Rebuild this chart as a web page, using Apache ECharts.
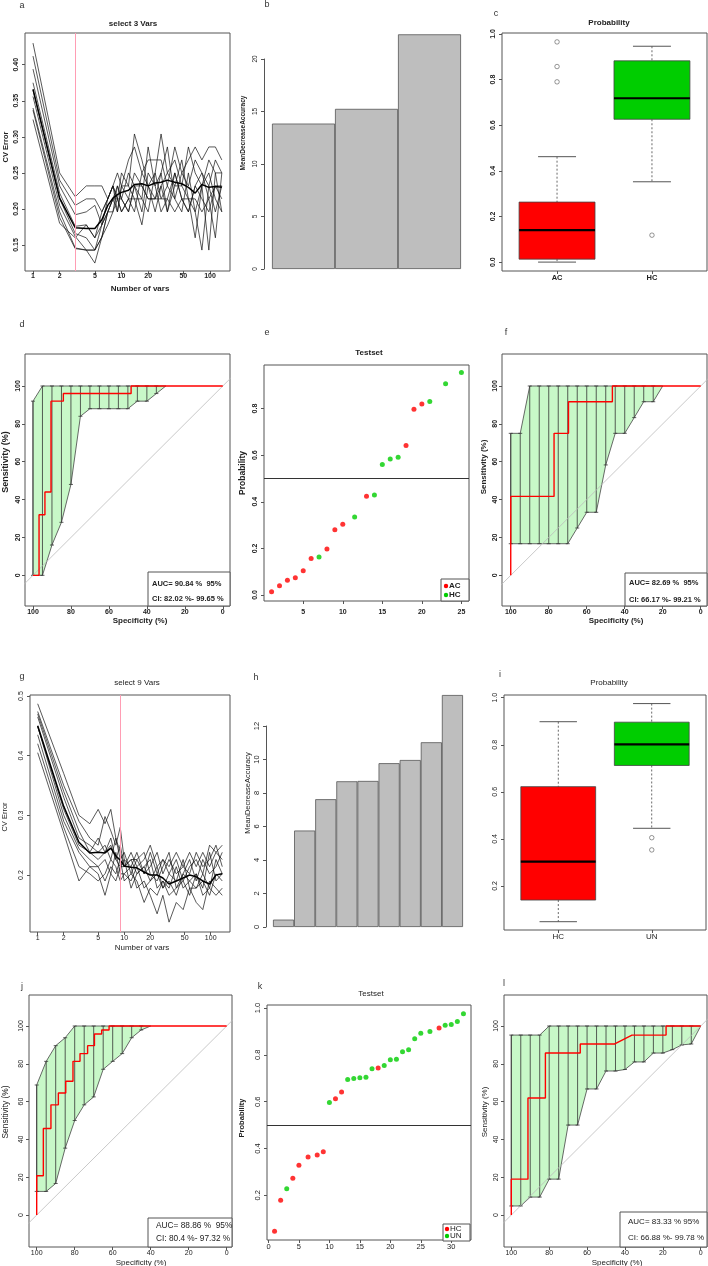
<!DOCTYPE html>
<html><head><meta charset="utf-8">
<script src="https://cdn.jsdelivr.net/npm/echarts@6/dist/echarts.min.js"></script>
<style>html,body{margin:0;padding:0;background:#fff}#c{width:708px;height:1266px}</style>
</head><body><div id="c"></div>
<script>
// ---------------- DATA ----------------
// a: rfcv, select 3 vars
const NV_A = [1,2,3,4,5,6,7,8,9,10,12,14,17,20,24,28,33,40,48,57,68,81,97,115,136];
const CV_A1 = [0.430,0.250,0.217,0.232,0.232,0.232,0.214,0.232,0.250,0.232,0.268,0.286,0.250,0.268,0.268,0.268,0.232,0.286,0.250,0.268,0.286,0.268,0.286,0.286,0.268];
const CV_A2 = [0.412,0.240,0.205,0.214,0.214,0.196,0.214,0.232,0.214,0.250,0.232,0.304,0.268,0.232,0.250,0.304,0.250,0.268,0.232,0.286,0.250,0.232,0.268,0.250,0.250];
const CV_A3 = [0.394,0.232,0.192,0.196,0.205,0.178,0.196,0.214,0.232,0.214,0.250,0.232,0.214,0.286,0.232,0.250,0.286,0.214,0.250,0.232,0.268,0.250,0.232,0.268,0.250];
const CV_A4 = [0.375,0.222,0.176,0.178,0.160,0.178,0.214,0.232,0.196,0.232,0.214,0.250,0.232,0.214,0.214,0.214,0.214,0.250,0.214,0.214,0.214,0.196,0.214,0.232,0.232];
const CV_A5 = [0.365,0.214,0.166,0.160,0.143,0.161,0.196,0.214,0.214,0.196,0.214,0.196,0.250,0.232,0.196,0.232,0.196,0.232,0.268,0.214,0.196,0.232,0.250,0.214,0.196];
const CV_A6 = [0.356,0.205,0.162,0.143,0.143,0.161,0.178,0.196,0.232,0.214,0.196,0.232,0.196,0.250,0.232,0.196,0.214,0.196,0.214,0.196,0.232,0.214,0.196,0.232,0.214];
const CV_A7 = [0.340,0.196,0.146,0.143,0.143,0.178,0.196,0.214,0.196,0.232,0.232,0.214,0.214,0.196,0.250,0.214,0.232,0.214,0.196,0.250,0.196,0.143,0.232,0.196,0.232];
const CV_A8 = [0.337,0.188,0.145,0.143,0.125,0.161,0.196,0.196,0.214,0.214,0.196,0.232,0.232,0.214,0.214,0.232,0.250,0.232,0.232,0.214,0.160,0.232,0.143,0.250,0.196];
const CV_A9 = [0.324,0.180,0.160,0.178,0.160,0.196,0.214,0.232,0.214,0.196,0.214,0.214,0.178,0.232,0.214,0.250,0.196,0.250,0.214,0.196,0.232,0.250,0.214,0.160,0.250];
const CV_A_MEAN = [0.366,0.215,0.174,0.173,0.173,0.185,0.205,0.215,0.220,0.223,0.226,0.234,0.235,0.232,0.236,0.237,0.240,0.237,0.235,0.230,0.222,0.234,0.230,0.231,0.230];
const SEL_A = 3;
const LOG_TICKS = [1,2,5,10,20,50,100];

// b: importance (3 vars)
const B_NAMES = ['v1','v2','v3'];
const B_VALUES = [13.85,15.25,22.35];

// c: boxplot probability
const C_CATS = ['AC','HC'];
const C_STATS = [[0.0,0.013,0.140,0.263,0.462],[0.352,0.626,0.718,0.882,0.946]];
const C_OUT_X = [1,1,1,2];
const C_OUT_Y = [0.965,0.857,0.790,0.118];

// d: ROC (test set, 3 vars)
const D_CI_SP = [100,95,90,85,80,75,70,65,60,55,50,45,40,35,30];
const D_CI_UP = [92,100,100,100,100,100,100,100,100,100,100,100,100,100,100];
const D_CI_LO = [0,0,16,28,48,84,88,88,88,88,88,92,92,96,100];
const D_ROC_SP = [100,96.8,96.8,93.7,93.7,90.5,90.5,84,84,48.3,48.3,0];
const D_ROC_SE = [0,0,32,32,44,44,92,92,96,96,100,100];
const D_AUC = ['AUC= 90.84 %  95%','CI: 82.02 %- 99.65 %'];

// e: test set probabilities
const E_RANK = [1,2,3,4,5,6,7,8,9,10,11.5,13,14,15,16,17,18,19,20,21,23,25];
const E_PROB = [0.014,0.039,0.063,0.074,0.104,0.156,0.163,0.197,0.280,0.303,0.335,0.424,0.429,0.560,0.584,0.591,0.641,0.797,0.820,0.830,0.907,0.955];
const E_GROUP = ['AC','AC','AC','AC','AC','AC','HC','AC','AC','AC','HC','AC','HC','HC','HC','HC','AC','AC','AC','HC','HC','HC'];
const E_LEVELS = ['AC','HC'];

// f: ROC
const F_CI_SP = [100,95,90,85,80,75,70,65,60,55,50,45,40,35,30,25,20];
const F_CI_UP = [75,75,100,100,100,100,100,100,100,100,100,100,100,100,100,100,100];
const F_CI_LO = [16.7,16.7,16.7,16.7,16.7,16.7,16.7,25,33.3,33.3,58.3,75,75,83.3,91.7,91.7,100];
const F_ROC_SP = [100,100,77.2,77.2,69.6,69.6,46.5,46.5,0];
const F_ROC_SE = [0,41.7,41.7,75,75,91.7,91.7,100,100];
const F_AUC = ['AUC= 82.69 %  95%','CI: 66.17 %- 99.21 %'];

// g: rfcv, select 9 vars
const NV_G = [1,2,3,4,5,6,7,8,9,10,12,14,17,20,24,28,33,40,48,57,68,81,97,115,136];
const CV_G1 = [0.487,0.370,0.300,0.286,0.310,0.286,0.310,0.262,0.238,0.214,0.238,0.214,0.226,0.250,0.214,0.226,0.202,0.226,0.190,0.214,0.226,0.202,0.250,0.238,0.226];
const CV_G2 = [0.474,0.350,0.290,0.262,0.250,0.298,0.274,0.250,0.280,0.226,0.214,0.238,0.202,0.214,0.238,0.202,0.226,0.202,0.214,0.202,0.238,0.214,0.226,0.250,0.214];
const CV_G3 = [0.465,0.330,0.262,0.250,0.238,0.250,0.226,0.262,0.226,0.238,0.202,0.226,0.238,0.202,0.190,0.214,0.238,0.178,0.202,0.226,0.190,0.226,0.202,0.214,0.238];
const CV_G4 = [0.449,0.310,0.250,0.238,0.226,0.238,0.250,0.226,0.214,0.214,0.226,0.202,0.214,0.226,0.178,0.190,0.178,0.214,0.178,0.190,0.202,0.178,0.238,0.190,0.202];
const CV_G5 = [0.449,0.300,0.244,0.226,0.214,0.226,0.202,0.238,0.202,0.202,0.190,0.214,0.178,0.190,0.202,0.178,0.202,0.190,0.226,0.178,0.178,0.190,0.166,0.202,0.190];
const CV_G6 = [0.435,0.290,0.238,0.214,0.214,0.190,0.214,0.202,0.226,0.190,0.202,0.190,0.154,0.178,0.166,0.190,0.166,0.178,0.190,0.166,0.202,0.166,0.178,0.166,0.178];
const CV_G7 = [0.420,0.280,0.214,0.202,0.190,0.202,0.226,0.214,0.190,0.202,0.214,0.178,0.190,0.166,0.135,0.166,0.121,0.154,0.142,0.178,0.154,0.142,0.190,0.178,0.166];
const CV_G8 = [0.405,0.270,0.190,0.214,0.202,0.166,0.202,0.190,0.214,0.226,0.178,0.202,0.214,0.190,0.214,0.178,0.190,0.166,0.202,0.190,0.178,0.202,0.178,0.226,0.202];
const CV_G9 = [0.470,0.340,0.274,0.238,0.262,0.238,0.262,0.226,0.250,0.214,0.226,0.226,0.202,0.238,0.202,0.226,0.214,0.238,0.214,0.238,0.214,0.238,0.214,0.238,0.250];
const CV_G_MEAN = [0.450,0.315,0.255,0.237,0.238,0.237,0.245,0.232,0.225,0.215,0.213,0.212,0.205,0.200,0.200,0.195,0.185,0.190,0.195,0.200,0.197,0.190,0.185,0.200,0.202];
const SEL_G = 9;

// h: importance (9 vars)
const H_NAMES = ['v1','v2','v3','v4','v5','v6','v7','v8','v9'];
const H_VALUES = [0.44,5.76,7.63,8.70,8.72,9.78,9.97,11.03,13.85];

// i: boxplot
const I_CATS = ['HC','UN'];
const I_STATS = [[0.048,0.140,0.303,0.622,0.898],[0.445,0.712,0.802,0.896,0.975]];
const I_OUT_X = [2,2];
const I_OUT_Y = [0.405,0.353];

// j: ROC
const J_CI_SP = [100,95,90,85,80,75,70,65,60,55,50,45,40];
const J_CI_UP = [68.8,81.3,89.6,93.8,100,100,100,100,100,100,100,100,100];
const J_CI_LO = [12.5,12.5,16.7,35.4,50,58.3,62.5,77.1,81.3,85.4,93.8,97.9,100];
const J_ROC_SP = [100,100,96.5,96.5,92.5,92.5,88.6,88.6,84.7,84.7,80.9,80.9,77.2,77.2,73.2,73.2,69.6,69.6,65.8,65.8,61.9,61.9,0];
const J_ROC_SE = [0,20.8,20.8,45.8,45.8,58.3,58.3,64.6,64.6,70.8,70.8,81.3,81.3,85.4,85.4,89.6,89.6,95.8,95.8,97.9,97.9,100,100];
const J_AUC = ['AUC= 88.86 %  95%','CI: 80.4 %- 97.32 %'];

// k: test set probabilities
const K_RANK = [1,2,3,4,5,6.5,8,9,10,11,12,13,14,15,16,17,18,19,20,21,22,23,24,25,26.5,28,29,30,31,32];
const K_PROB = [0.046,0.179,0.228,0.273,0.328,0.364,0.372,0.386,0.596,0.613,0.641,0.695,0.699,0.702,0.704,0.741,0.744,0.755,0.779,0.781,0.813,0.822,0.869,0.892,0.900,0.915,0.926,0.930,0.943,0.976];
const K_GROUP = ['HC','HC','UN','HC','HC','HC','HC','HC','UN','HC','HC','UN','UN','UN','UN','UN','HC','UN','UN','UN','UN','UN','UN','UN','UN','HC','UN','UN','UN','UN'];
const K_LEVELS = ['HC','UN'];

// l: ROC
const L_CI_SP = [100,95,90,85,80,75,70,65,60,55,50,45,40,35,30,25,20,15,10,5,0];
const L_CI_UP = [95.2,95.2,95.2,95.2,100,100,100,100,100,100,100,100,100,100,100,100,100,100,100,100,100];
const L_CI_LO = [4.8,4.8,9.5,9.5,19,19,47.6,47.6,66.7,66.7,76.2,76.2,77,81,81,85.7,85.7,87.5,90,90.5,100];
const L_ROC_SP = [100,100,91.2,91.2,82,82,63.6,63.6,45.4,36.3,18.3,18.3,0];
const L_ROC_SE = [0,19,19,61.9,61.9,85.7,85.7,90.5,90.5,95.2,95.2,100,100];
const L_AUC = ['AUC= 83.33 % 95%','CI: 66.88 %- 99.78 %'];

const ROC_TICKS = [0,20,40,60,80,100];

// ---------------- BUILD ----------------
const FONT = '"Liberation Sans", Arial, Helvetica, sans-serif';
const RED = '#ff0000', GREEN = '#00cd00', CIFILL = '#c8f8c8';
const G = [], X = [], Y = [], S = [], GR = [];

function grid(l, t, r, b, show) {
  G.push({left: l, top: t, width: r - l, height: b - t, show: show !== false,
    borderColor: '#555', borderWidth: 1, backgroundColor: 'transparent', containLabel: false});
  return G.length - 1;
}
function ax(gi, o) {
  const lab = {show: !!o.ticks, customValues: o.ticks, formatter: o.fmt, margin: o.margin != null ? o.margin : 3,
    fontSize: o.fs || 7, fontWeight: o.bold ? 'bold' : 'normal', fontFamily: FONT, color: '#222',
    showMinLabel: true, showMaxLabel: true, hideOverlap: false};
  if (o.rot) { lab.rotate = 90; lab.align = 'center'; lab.verticalAlign = 'bottom'; }
  const a = {gridIndex: gi, type: o.type || 'value', inverse: !!o.inverse, position: o.pos, offset: o.offset || 0,
    axisLine: {show: !!o.line, onZero: false, lineStyle: {color: '#555', width: 1}},
    axisTick: {show: !!o.ticks, customValues: o.ticks, length: 3, inside: false, lineStyle: {color: '#555', width: 1}},
    axisLabel: lab, splitLine: {show: false}, axisPointer: {show: false}};
  if (o.min != null) a.min = o.min;
  if (o.max != null) a.max = o.max;
  if (o.data) a.data = o.data;
  return a;
}
function addAxes(gi, xo, yo) { X.push(ax(gi, Object.assign({pos: 'bottom'}, xo))); Y.push(ax(gi, Object.assign({pos: 'left'}, yo))); }

function txt(x, y, s, o) {
  o = o || {};
  GR.push({type: 'text', x: x, y: y, rotation: o.rot ? Math.PI / 2 : 0, silent: true, z: 101,
    style: {text: s, font: (o.bold ? 'bold ' : '') + (o.fs || 8) + 'px ' + FONT, fill: o.color || '#222',
      align: o.align || 'center', verticalAlign: 'middle'}});
}
function rect(x1, y1, x2, y2) {
  GR.push({type: 'rect', silent: true, z: 100, shape: {x: x1, y: y1, width: x2 - x1, height: y2 - y1},
    style: {fill: '#fff', stroke: '#555', lineWidth: 1}});
}
function dot(cx, cy, c) {
  GR.push({type: 'circle', silent: true, z: 101, shape: {cx: cx, cy: cy, r: 2.2}, style: {fill: c}});
}

const logT = v => Math.log10(v);
function cvPanel(gi, nv, lines, mean, sel) {
  lines.forEach(L => S.push({type: 'line', xAxisIndex: gi, yAxisIndex: gi, symbol: 'none', silent: true,
    data: nv.map((n, i) => [logT(n), L[i]]), lineStyle: {color: '#111', width: 0.7}}));
  S.push({type: 'line', xAxisIndex: gi, yAxisIndex: gi, symbol: 'none', silent: true,
    data: nv.map((n, i) => [logT(n), mean[i]]), lineStyle: {color: '#000', width: 1.5},
    markLine: {silent: true, symbol: 'none', label: {show: false}, animation: false,
      lineStyle: {color: '#ff9db4', width: 1, type: 'solid'}, data: [{xAxis: logT(sel)}]}});
}
function barPanel(gi, vals) {
  S.push({type: 'bar', xAxisIndex: gi, yAxisIndex: gi, data: vals, barCategoryGap: '0%', clip: false, silent: true,
    itemStyle: {color: '#bebebe', borderColor: '#555', borderWidth: 0.8}});
}
function boxPanel(gi, stats, outX, outY) {
  const cols = [RED, GREEN];
  S.push({type: 'custom', xAxisIndex: gi, yAxisIndex: gi, silent: true,
    data: stats.map((s, i) => [i + 1].concat(s)),
    renderItem: function (p, api) {
      const x = api.value(0);
      const P = v => api.coord([x, v]);
      const half = api.size([0.4, 0])[0], cap = api.size([0.2, 0])[0];
      const cx = P(api.value(1))[0];
      const yLo = P(api.value(1))[1], yQ1 = P(api.value(2))[1], yMed = P(api.value(3))[1], yQ3 = P(api.value(4))[1], yHi = P(api.value(5))[1];
      const ln = (x1, y1, x2, y2, st) => ({type: 'line', shape: {x1: x1, y1: y1, x2: x2, y2: y2}, style: st});
      const dash = {stroke: '#444', lineWidth: 0.8, lineDash: [2, 2]};
      const sol = {stroke: '#555', lineWidth: 1};
      return {type: 'group', children: [
        ln(cx, yHi, cx, yQ3, dash), ln(cx, yQ1, cx, yLo, dash),
        ln(cx - cap, yHi, cx + cap, yHi, sol), ln(cx - cap, yLo, cx + cap, yLo, sol),
        {type: 'rect', shape: {x: cx - half, y: yQ3, width: 2 * half, height: yQ1 - yQ3},
          style: {fill: cols[p.dataIndex], stroke: '#444', lineWidth: 0.8}},
        ln(cx - half, yMed, cx + half, yMed, {stroke: '#000', lineWidth: 2.2})]};
    }});
  S.push({type: 'scatter', xAxisIndex: gi, yAxisIndex: gi, silent: true, symbol: 'circle', symbolSize: 4.5,
    data: outX.map((x, i) => [x, outY[i]]), itemStyle: {color: '#fff', borderColor: '#444', borderWidth: 0.7}});
}
function rocPanel(gi, sp, up, lo, rsp, rse) {
  S.push({type: 'line', xAxisIndex: gi, yAxisIndex: gi, symbol: 'none', silent: true, clip: true,
    data: [[130, -30], [-30, 130]], lineStyle: {color: '#bbb', width: 0.8}});
  S.push({type: 'custom', xAxisIndex: gi, yAxisIndex: gi, silent: true, data: [[sp[0], up[0]]],
    renderItem: function (p, api) {
      const pts = [];
      for (let i = 0; i < sp.length; i++) pts.push(api.coord([sp[i], up[i]]));
      for (let i = sp.length - 1; i >= 0; i--) pts.push(api.coord([sp[i], lo[i]]));
      return {type: 'polygon', shape: {points: pts}, style: {fill: CIFILL, stroke: '#444', lineWidth: 0.8}};
    }});
  const bars = [];
  sp.forEach((s, i) => { if (up[i] > lo[i]) bars.push([s, lo[i], up[i]]); });
  S.push({type: 'custom', xAxisIndex: gi, yAxisIndex: gi, silent: true, data: bars,
    renderItem: function (p, api) {
      const a = api.coord([api.value(0), api.value(1)]), b = api.coord([api.value(0), api.value(2)]);
      const st = {stroke: '#333', lineWidth: 0.8};
      return {type: 'group', children: [
        {type: 'line', shape: {x1: a[0], y1: a[1], x2: b[0], y2: b[1]}, style: st},
        {type: 'line', shape: {x1: a[0] - 2, y1: a[1], x2: a[0] + 2, y2: a[1]}, style: st},
        {type: 'line', shape: {x1: b[0] - 2, y1: b[1], x2: b[0] + 2, y2: b[1]}, style: st}]};
    }});
  S.push({type: 'line', xAxisIndex: gi, yAxisIndex: gi, symbol: 'none', silent: true,
    data: rsp.map((s, i) => [s, rse[i]]), lineStyle: {color: RED, width: 1.4}});
}
function scatPanel(gi, rank, prob, group, levels) {
  [RED, GREEN].forEach((c, k) => {
    const d = [];
    rank.forEach((r, i) => { if (group[i] === levels[k]) d.push([r, prob[i]]); });
    const s = {type: 'scatter', xAxisIndex: gi, yAxisIndex: gi, silent: true, symbol: 'circle', symbolSize: 5,
      data: d, itemStyle: {color: c}};
    if (k === 0) s.markLine = {silent: true, symbol: 'none', label: {show: false}, animation: false,
      lineStyle: {color: '#333', width: 1, type: 'solid'}, data: [{yAxis: 0.5}]};
    S.push(s);
  });
}
const f0 = v => String(Math.round(v));
const f1 = v => v.toFixed(1);
const f2 = v => v.toFixed(2);
const logFmt = v => String(Math.round(Math.pow(10, v)));

// a
let gi = grid(25, 33, 230, 271);
addAxes(gi, {min: -0.0904, max: 2.226, ticks: LOG_TICKS.map(logT), fmt: logFmt, bold: true, margin: 2},
  {min: 0.114, max: 0.444, ticks: [0.15, 0.2, 0.25, 0.3, 0.35, 0.4], fmt: f2, rot: true, bold: true, margin: 5});
cvPanel(gi, NV_A, [CV_A1, CV_A2, CV_A3, CV_A4, CV_A5, CV_A6, CV_A7, CV_A8, CV_A9], CV_A_MEAN, SEL_A);
// b
gi = grid(272, 59, 461, 269, false);
addAxes(gi, {type: 'category', data: B_NAMES},
  {min: 0, max: 20, ticks: [0, 5, 10, 15, 20], fmt: f0, rot: true, line: true, offset: 8, margin: 5, fs: 6.5});
barPanel(gi, B_VALUES);
// c
gi = grid(502, 33, 707, 271);
addAxes(gi, {min: 0.42, max: 2.58, ticks: [1, 2], fmt: v => C_CATS[Math.round(v) - 1], bold: true, fs: 7.5, margin: 3},
  {min: -0.039, max: 1.004, ticks: [0, 0.2, 0.4, 0.6, 0.8, 1.0], fmt: f1, rot: true, bold: true, margin: 5});
boxPanel(gi, C_STATS, C_OUT_X, C_OUT_Y);
// d
gi = grid(25, 354, 230, 606);
addAxes(gi, {min: -3.8, max: 104.2, inverse: true, ticks: ROC_TICKS, fmt: f0, bold: true, margin: 3},
  {min: -16.2, max: 116.9, ticks: ROC_TICKS, fmt: f0, rot: true, bold: true, margin: 3});
rocPanel(gi, D_CI_SP, D_CI_UP, D_CI_LO, D_ROC_SP, D_ROC_SE);
// e
gi = grid(264, 365, 469, 601);
addAxes(gi, {min: 0.04, max: 25.96, ticks: [5, 10, 15, 20, 25], fmt: f0, bold: true, margin: 8},
  {min: -0.026, max: 0.987, ticks: [0, 0.2, 0.4, 0.6, 0.8], fmt: f1, rot: true, bold: true, margin: 5});
scatPanel(gi, E_RANK, E_PROB, E_GROUP, E_LEVELS);
// f
gi = grid(502, 354, 707, 606);
addAxes(gi, {min: -3.3, max: 104.6, inverse: true, ticks: ROC_TICKS, fmt: f0, bold: true, margin: 3},
  {min: -16.2, max: 116.9, ticks: ROC_TICKS, fmt: f0, rot: true, bold: true, margin: 3});
rocPanel(gi, F_CI_SP, F_CI_UP, F_CI_LO, F_ROC_SP, F_ROC_SE);
// g
gi = grid(30, 695, 230, 932);
addAxes(gi, {min: -0.089, max: 2.223, ticks: LOG_TICKS.map(logT), fmt: logFmt, margin: 3},
  {min: 0.1045, max: 0.5017, ticks: [0.2, 0.3, 0.4, 0.5], fmt: f1, rot: true, margin: 5});
cvPanel(gi, NV_G, [CV_G1, CV_G2, CV_G3, CV_G4, CV_G5, CV_G6, CV_G7, CV_G8, CV_G9], CV_G_MEAN, SEL_G);
// h
gi = grid(273, 726, 463, 927, false);
addAxes(gi, {type: 'category', data: H_NAMES},
  {min: 0, max: 12, ticks: [0, 2, 4, 6, 8, 10, 12], fmt: f0, rot: true, line: true, offset: 7, margin: 5, fs: 7.5});
barPanel(gi, H_VALUES);
// i
gi = grid(504, 695, 706, 930);
addAxes(gi, {min: 0.42, max: 2.58, ticks: [1, 2], fmt: v => I_CATS[Math.round(v) - 1], fs: 8, margin: 3},
  {min: 0.0127, max: 1.0115, ticks: [0.2, 0.4, 0.6, 0.8, 1.0], fmt: f1, rot: true, margin: 5});
boxPanel(gi, I_STATS, I_OUT_X, I_OUT_Y);
// j
gi = grid(29, 995, 232, 1247);
addAxes(gi, {min: -2.8, max: 104.05, inverse: true, ticks: ROC_TICKS, fmt: f0, margin: 3},
  {min: -16.9, max: 116.4, ticks: ROC_TICKS, fmt: f0, rot: true, margin: 4});
rocPanel(gi, J_CI_SP, J_CI_UP, J_CI_LO, J_ROC_SP, J_ROC_SE);
// k
gi = grid(267, 1005, 471, 1240);
addAxes(gi, {min: -0.24, max: 33.24, ticks: [0, 5, 10, 15, 20, 25, 30], fmt: f0, margin: 3, fs: 7.5},
  {min: 0.009, max: 1.013, ticks: [0.2, 0.4, 0.6, 0.8, 1.0], fmt: f1, rot: true, margin: 5, fs: 7.5});
scatPanel(gi, K_RANK, K_PROB, K_GROUP, K_LEVELS);
// l
gi = grid(504, 995, 707, 1247);
addAxes(gi, {min: -3.3, max: 103.85, inverse: true, ticks: ROC_TICKS, fmt: f0, margin: 3},
  {min: -16.9, max: 116.4, ticks: ROC_TICKS, fmt: f0, rot: true, margin: 4});
rocPanel(gi, L_CI_SP, L_CI_UP, L_CI_LO, L_ROC_SP, L_ROC_SE);

// panel letters
[['a', 22, 6], ['b', 267, 5], ['c', 496, 14], ['d', 22, 325], ['e', 267, 333], ['f', 506, 333],
 ['g', 22, 677], ['h', 256, 678], ['i', 500, 675], ['j', 22, 987], ['k', 260, 987], ['l', 504, 984]]
  .forEach(t => txt(t[1], t[2], t[0], {fs: 9, color: '#333'}));
// titles
txt(133, 24, 'select 3 Vars', {bold: true});
txt(609, 23, 'Probability', {bold: true});
txt(369, 353, 'Testset', {bold: true});
txt(137, 683, 'select 9 Vars');
txt(609, 683, 'Probability');
txt(371, 994, 'Testset');
// axis titles
txt(140, 289, 'Number of vars', {bold: true});
txt(6, 147, 'CV Error', {bold: true, rot: true, fs: 7.5});
txt(243, 133, 'MeanDecreaseAccuracy', {bold: true, rot: true, fs: 6.5});
txt(6, 462, 'Sensitivity (%)', {bold: true, rot: true, fs: 9});
txt(140, 621, 'Specificity (%)', {bold: true});
txt(243, 473, 'Probability', {bold: true, rot: true, fs: 8.5});
txt(484, 467, 'Sensitivity (%)', {bold: true, rot: true});
txt(616, 621, 'Specificity (%)', {bold: true});
txt(5, 817, 'CV Error', {rot: true, fs: 7.5});
txt(142, 948, 'Number of vars');
txt(248, 793, 'MeanDecreaseAccuracy', {rot: true, fs: 7.5});
txt(6, 1112, 'Sensitivity (%)', {rot: true, fs: 8.4});
txt(141, 1263, 'Specificity (%)');
txt(242, 1118, 'Probability', {bold: true, rot: true, fs: 7.5});
txt(485, 1112, 'Sensitivity (%)', {rot: true});
txt(617, 1263, 'Specificity (%)');

// AUC legend boxes
function aucBox(x1, y1, x2, y2, lines, tx, ty1, ty2, bold, fs) {
  rect(x1, y1, x2, y2);
  txt(tx, ty1, lines[0], {align: 'left', bold: bold, fs: fs});
  txt(tx, ty2, lines[1], {align: 'left', bold: bold, fs: fs});
}
aucBox(148, 572, 230, 606, D_AUC, 152, 584, 599, true, 7.5);
aucBox(625, 573, 707, 606, F_AUC, 629, 583, 600, true, 7.5);
aucBox(148, 1218, 232, 1247, J_AUC, 156, 1226, 1239, false, 8.3);
aucBox(620, 1212, 707, 1247, L_AUC, 628, 1222, 1238, false, 8);

// scatter legends
rect(441, 579, 469, 601);
dot(446, 586, RED); dot(446, 595, GREEN);
txt(449, 586, E_LEVELS[0], {align: 'left', bold: true, fs: 8});
txt(449, 595, E_LEVELS[1], {align: 'left', bold: true, fs: 8});
rect(443, 1224, 470, 1241);
dot(447, 1229, RED); dot(447, 1236, GREEN);
txt(450, 1229, K_LEVELS[0], {align: 'left', fs: 8});
txt(450, 1236, K_LEVELS[1], {align: 'left', fs: 8});

const chart = echarts.init(document.getElementById('c'), null, {renderer: 'canvas'});
chart.setOption({animation: false, backgroundColor: '#fff', grid: G, xAxis: X, yAxis: Y, series: S, graphic: GR});
</script></body></html>
